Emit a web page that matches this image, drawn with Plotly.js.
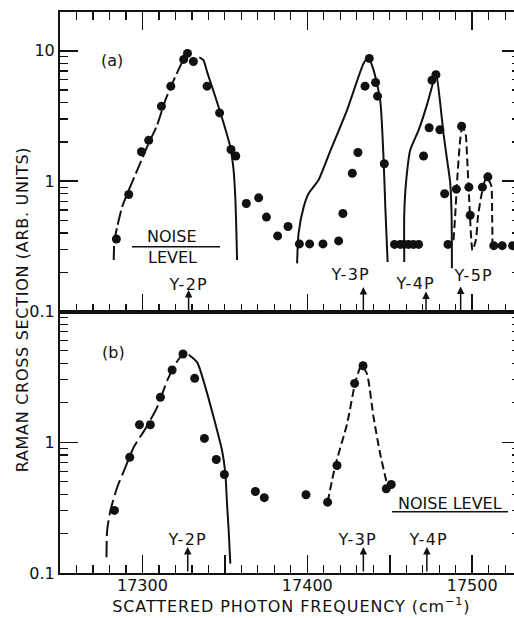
<!DOCTYPE html>
<html>
<head>
<meta charset="utf-8">
<script src="https://cdn.plot.ly/plotly-3.0.1.min.js"></script>
<style>
html,body{margin:0;padding:0;overflow:hidden;background:#fff;}
#chart{width:522px;height:618px;}
</style>
</head>
<body>
<div id="chart"></div>
<script>
// ---------- Panel (a) measured points ----------
const aX = [17284.2, 17291.7, 17299.4, 17303.8, 17311.5, 17317.2, 17325.0, 17327.3, 17330.9, 17339.2,
            17346.8, 17353.7, 17356.6, 17363.0, 17370.5, 17375.2, 17382.0, 17388.3, 17395.2, 17401.4,
            17409.5, 17419.0, 17421.6, 17427.3, 17430.7, 17435.0, 17437.6, 17441.4, 17442.6, 17446.7,
            17452.9, 17456.4, 17458.8, 17461.4, 17464.4, 17467.5, 17470.5, 17473.9, 17475.6, 17478.0,
            17480.4, 17483.3, 17485.3, 17490.4, 17493.6, 17498.0, 17498.8, 17506.2, 17509.5, 17513.1,
            17518.2, 17524.5];
const aY = [0.36, 0.79, 1.68, 2.06, 3.76, 5.36, 8.59, 9.55, 8.29, 5.36,
            3.34, 1.75, 1.56, 0.674, 0.745, 0.53, 0.38, 0.449, 0.33, 0.33,
            0.33, 0.348, 0.565, 1.15, 1.66, 5.36, 8.75, 5.72, 4.49, 1.36,
            0.327, 0.327, 0.327, 0.327, 0.327, 0.327, 1.56, 2.57, 5.96, 6.55,
            2.48, 0.80, 0.327, 0.868, 2.64, 0.90, 0.548, 0.90, 1.08, 0.32,
            0.32, 0.32];

// ---------- Panel (a) drawn curves ----------
const a2pLeftX  = [17282.6, 17283.0, 17284.7, 17287.7, 17291.7, 17296.8, 17302.8, 17308.9, 17313.9, 17319.0, 17324.1];
const a2pLeftY  = [0.248, 0.352, 0.446, 0.635, 0.853, 1.21, 1.83, 2.69, 4.19, 5.96, 8.24];
const a2pRightX = [17334.5, 17337.0, 17339.2, 17344.2, 17349.3, 17353.3, 17355.3, 17356.4, 17357.0, 17357.4];
const a2pRightY = [8.9, 8.49, 6.9, 4.44, 2.77, 1.83, 1.21, 0.715, 0.399, 0.248];
const a3pX = [17393.8, 17394.7, 17397.8, 17400.8, 17406.8, 17413.9, 17424.1, 17434.1, 17437.0, 17440.2, 17444.2, 17446.2, 17447.3, 17448.7];
const a3pY = [0.234, 0.397, 0.635, 0.805, 1.02, 1.70, 3.51, 8.0, 8.9, 7.11, 4.19, 1.54, 0.635, 0.24];
const a4pX = [17458.8, 17458.8, 17460.0, 17462.4, 17467.5, 17472.5, 17475.6, 17477.6, 17478.2, 17480.6, 17482.6, 17484.8, 17486.7, 17487.5, 17487.7];
const a4pY = [0.24, 0.565, 1.02, 1.73, 2.46, 3.83, 5.3, 6.5, 6.59, 3.97, 2.32, 1.45, 0.965, 0.548, 0.215];
const a5pX = [17488.7, 17489.7, 17490.9, 17492.7, 17493.9, 17495.8, 17497.0, 17498.2, 17500.2, 17502.2, 17503.6, 17505.8, 17507.9, 17509.1, 17511.5, 17512.1, 17512.3];
const a5pY = [0.352, 0.548, 1.02, 2.06, 2.55, 2.39, 1.45, 0.715, 0.295, 0.352, 0.548, 0.805, 1.02, 1.05, 0.93, 0.548, 0.333];

// ---------- Panel (b) measured points ----------
const bX = [17283.0, 17292.3, 17298.2, 17304.8, 17310.9, 17318.0, 17324.6, 17331.7, 17337.6, 17344.8,
            17349.7, 17368.5, 17373.9, 17399.2, 17412.3, 17418.0, 17428.7, 17433.8, 17447.9, 17450.9];
const bY = [0.301, 0.768, 1.36, 1.36, 2.21, 3.57, 4.73, 3.08, 1.07, 0.738,
            0.567, 0.42, 0.377, 0.397, 0.348, 0.664, 2.82, 3.85, 0.441, 0.475];

// ---------- Panel (b) drawn curves ----------
const b2pLeftX  = [17278.2, 17278.6, 17280.6, 17284.7, 17289.7, 17294.7, 17301.8, 17308.9, 17315.0, 17320.0, 17324.0];
const b2pLeftY  = [0.132, 0.212, 0.301, 0.453, 0.645, 0.916, 1.27, 1.85, 2.96, 3.97, 4.67];
const b2pRightX = [17328.1, 17333.2, 17338.2, 17343.2, 17348.3, 17350.3, 17351.3, 17352.3, 17353.3];
const b2pRightY = [4.67, 4.08, 2.63, 1.55, 0.864, 0.574, 0.339, 0.212, 0.118];
const b3pX = [17412.3, 17417.0, 17424.1, 17429.1, 17432.1, 17433.1, 17436.2, 17440.2, 17444.2, 17448.3];
const b3pY = [0.348, 0.664, 1.38, 2.87, 3.74, 3.85, 3.33, 1.55, 0.815, 0.481];

// ---------- Line positions and labels ----------
const linesA = [17328, 17434, 17472, 17493];
const labelsA = ['Y-2P', 'Y-3P', 'Y-4P', 'Y-5P'];
const linesB = [17327.5, 17434, 17472.5];
const labelsB = ['Y-2P', 'Y-3P', 'Y-4P'];

// ---------- Axis ticks ----------
const xTickVals = [17250, 17300, 17350, 17400, 17450, 17500];
const xTickText = ['', '17300', '', '17400', '', '17500'];
const yTickValsA = [0.1, 1, 10];
const yTickTextA = ['0.1', '1', '10'];
const yTickValsB = [0.1, 1];
const yTickTextB = ['0.1', '1'];
const yMinorA = [0.2, 0.3, 0.4, 0.5, 0.6, 0.7, 0.8, 0.9, 2, 3, 4, 5, 6, 7, 8, 9];
const yMinorB = [0.2, 0.3, 0.4, 0.5, 0.6, 0.7, 0.8, 0.9, 2, 3, 4, 5, 6, 7, 8, 9];

const INK = '#111';
const FONT = 'DejaVu Sans';

function line(x, y, xa, ya, dash) {
  return {x: x, y: y, xaxis: xa, yaxis: ya, type: 'scatter', mode: 'lines',
          line: {color: INK, width: 2, dash: dash || 'solid', shape: 'spline', smoothing: 0.6},
          hoverinfo: 'skip'};
}
function pts(x, y, xa, ya) {
  return {x: x, y: y, xaxis: xa, yaxis: ya, type: 'scatter', mode: 'markers',
          marker: {color: INK, size: 9, line: {width: 0}}};
}

const data = [
  line(a2pLeftX, a2pLeftY, 'x2', 'y2', '14px,4px'),
  line(a2pRightX, a2pRightY, 'x2', 'y2'),
  line(a3pX, a3pY, 'x2', 'y2'),
  line(a4pX, a4pY, 'x2', 'y2'),
  line(a5pX, a5pY, 'x2', 'y2', '8px,4px'),
  pts(aX, aY, 'x2', 'y2'),
  line(b2pLeftX, b2pLeftY, 'x', 'y', '16px,5px'),
  line(b2pRightX, b2pRightY, 'x', 'y'),
  line(b3pX, b3pY, 'x', 'y', '8px,4px'),
  pts(bX, bY, 'x', 'y'),
  // empty carriers so the minor-tick overlay axes are drawn
  {x: [], y: [], xaxis: 'x', yaxis: 'y3', type: 'scatter', mode: 'markers', showlegend: false},
  {x: [], y: [], xaxis: 'x2', yaxis: 'y4', type: 'scatter', mode: 'markers', showlegend: false}
];

const W = 522, H = 618;
const L = 60, R = 2, T = 12, B = 45;
const plotH = H - T - B;
const split = (573 - 311.5) / plotH;
function py(p) { return (573 - p) / plotH; }   // pixel row -> paper y
function px(p) { return (p - L) / (W - L - R); } // pixel col -> paper x

const xBase = {
  range: [17250, 17529], showgrid: false, zeroline: false,
  showline: true, linewidth: 2, linecolor: INK,
  ticks: 'inside', ticklen: 18, tickwidth: 1.5, tickcolor: INK,
  tickmode: 'array', tickvals: xTickVals, ticktext: xTickText,
  tickfont: {family: FONT, size: 16, color: INK},
  ticklabelstandoff: -3,
  minor: {dtick: 10, tick0: 17250, ticks: 'inside', ticklen: 8, tickwidth: 1.2, tickcolor: INK, showgrid: false}
};
const yBase = {
  type: 'log', showgrid: false, zeroline: false,
  showline: true, linewidth: 2, linecolor: INK, mirror: 'ticks',
  ticks: 'inside', ticklen: 18, tickwidth: 1.5, tickcolor: INK,
  tickmode: 'array',
  tickfont: {family: FONT, size: 16, color: INK}
};
const yMinorBase = {
  type: 'log', showgrid: false, zeroline: false, showline: false,
  mirror: 'ticks', ticks: 'inside', ticklen: 8, tickwidth: 1.2, tickcolor: INK,
  tickmode: 'array', showticklabels: false, side: 'left'
};

const layout = {
  width: W, height: H,
  margin: {l: L, r: R, t: T, b: B, pad: 0},
  paper_bgcolor: '#fff', plot_bgcolor: 'rgba(0,0,0,0)',
  showlegend: false,
  font: {family: FONT, color: INK, size: 16},
  xaxis: Object.assign({}, xBase, {domain: [0, 1], anchor: 'y', mirror: true}),
  xaxis2: Object.assign({}, xBase, {domain: [0, 1], anchor: 'y2', mirror: 'ticks', showticklabels: false}),
  yaxis: Object.assign({}, yBase, {domain: [0, split], anchor: 'x', range: [-1, 1], tickvals: yTickValsB, ticktext: yTickTextB}),
  yaxis2: Object.assign({}, yBase, {domain: [split, 1], anchor: 'x2', range: [-1, 1.298], tickvals: yTickValsA, ticktext: yTickTextA}),
  yaxis3: Object.assign({}, yMinorBase, {overlaying: 'y', anchor: 'x', range: [-1, 1], tickvals: yMinorB}),
  yaxis4: Object.assign({}, yMinorBase, {overlaying: 'y2', anchor: 'x2', range: [-1, 1.298], tickvals: yMinorA}),
  shapes: [
    {type: 'line', xref: 'paper', yref: 'paper', x0: px(132), x1: px(220), y0: py(246.7), y1: py(246.7), line: {color: INK, width: 1.5}},
    {type: 'line', xref: 'paper', yref: 'paper', x0: px(392), x1: px(508), y0: py(511.7), y1: py(511.7), line: {color: INK, width: 1.5}}
  ],
  annotations: []
};

const ann = layout.annotations;
const txt = (o) => Object.assign({showarrow: false, xanchor: 'center', yanchor: 'middle',
                                  font: {family: FONT, size: 16, color: INK}}, o);

ann.push(txt({xref: 'paper', yref: 'paper', x: px(111.5), y: py(60), text: '(a)'}));
ann.push(txt({xref: 'paper', yref: 'paper', x: px(113), y: py(352), text: '(b)'}));
ann.push(txt({xref: 'paper', yref: 'paper', x: px(172), y: py(236), text: 'NOISE'}));
ann.push(txt({xref: 'paper', yref: 'paper', x: px(172), y: py(257.5), text: 'LEVEL'}));
ann.push(txt({xref: 'paper', yref: 'paper', x: px(449.5), y: py(503), text: 'NOISE LEVEL'}));

// panel (a) line markers
const labYA = [284, 274.5, 283, 275];
const labShiftA = [0, -13, -11, 13];
const tipA = [290, 287, 291.5, 286.5];
linesA.forEach((v, i) => {
  ann.push({xref: 'x2', yref: 'paper', x: v, y: py(tipA[i]), ax: 0, ay: 311.5 - tipA[i], text: '',
            showarrow: true, arrowhead: 2, arrowsize: 1, arrowwidth: 1.5, arrowcolor: INK, standoff: 0, startstandoff: 0});
  ann.push(txt({xref: 'x2', yref: 'paper', x: v, xshift: labShiftA[i], y: py(labYA[i]), text: labelsA[i]}));
});
// panel (b) line markers
const labShiftB = [0, -6, 2];
linesB.forEach((v, i) => {
  ann.push({xref: 'x', yref: 'paper', x: v, y: py(547), ax: 0, ay: 26, text: '',
            showarrow: true, arrowhead: 2, arrowsize: 1, arrowwidth: 1.5, arrowcolor: INK, standoff: 0, startstandoff: 0});
  ann.push(txt({xref: 'x', yref: 'paper', x: v, xshift: labShiftB[i], y: py(539), text: labelsB[i]}));
});

// axis titles
ann.push(txt({xref: 'paper', yref: 'paper', x: px(291), y: py(605), text: 'SCATTERED PHOTON FREQUENCY (cm<sup>−1</sup>)'}));
ann.push(txt({xref: 'paper', yref: 'paper', x: px(22), y: py(310), textangle: -90, text: 'RAMAN CROSS SECTION (ARB. UNITS)'}));

Plotly.newPlot('chart', data, layout, {staticPlot: true, displayModeBar: false}).then(function (gd) {
  // widen the lettering a little, like the hand-lettered original
  gd.querySelectorAll('.annotation-text').forEach(function (t) {
    const s = t.textContent;
    if (s.indexOf('SCATTERED') === 0) t.style.letterSpacing = '0.9px';
    else if (s.indexOf('RAMAN') === 0) t.style.letterSpacing = '0.7px';
    else if (/^Y-\dP$/.test(s)) t.style.letterSpacing = '1.3px';
  });
});
</script>
</body>
</html>
